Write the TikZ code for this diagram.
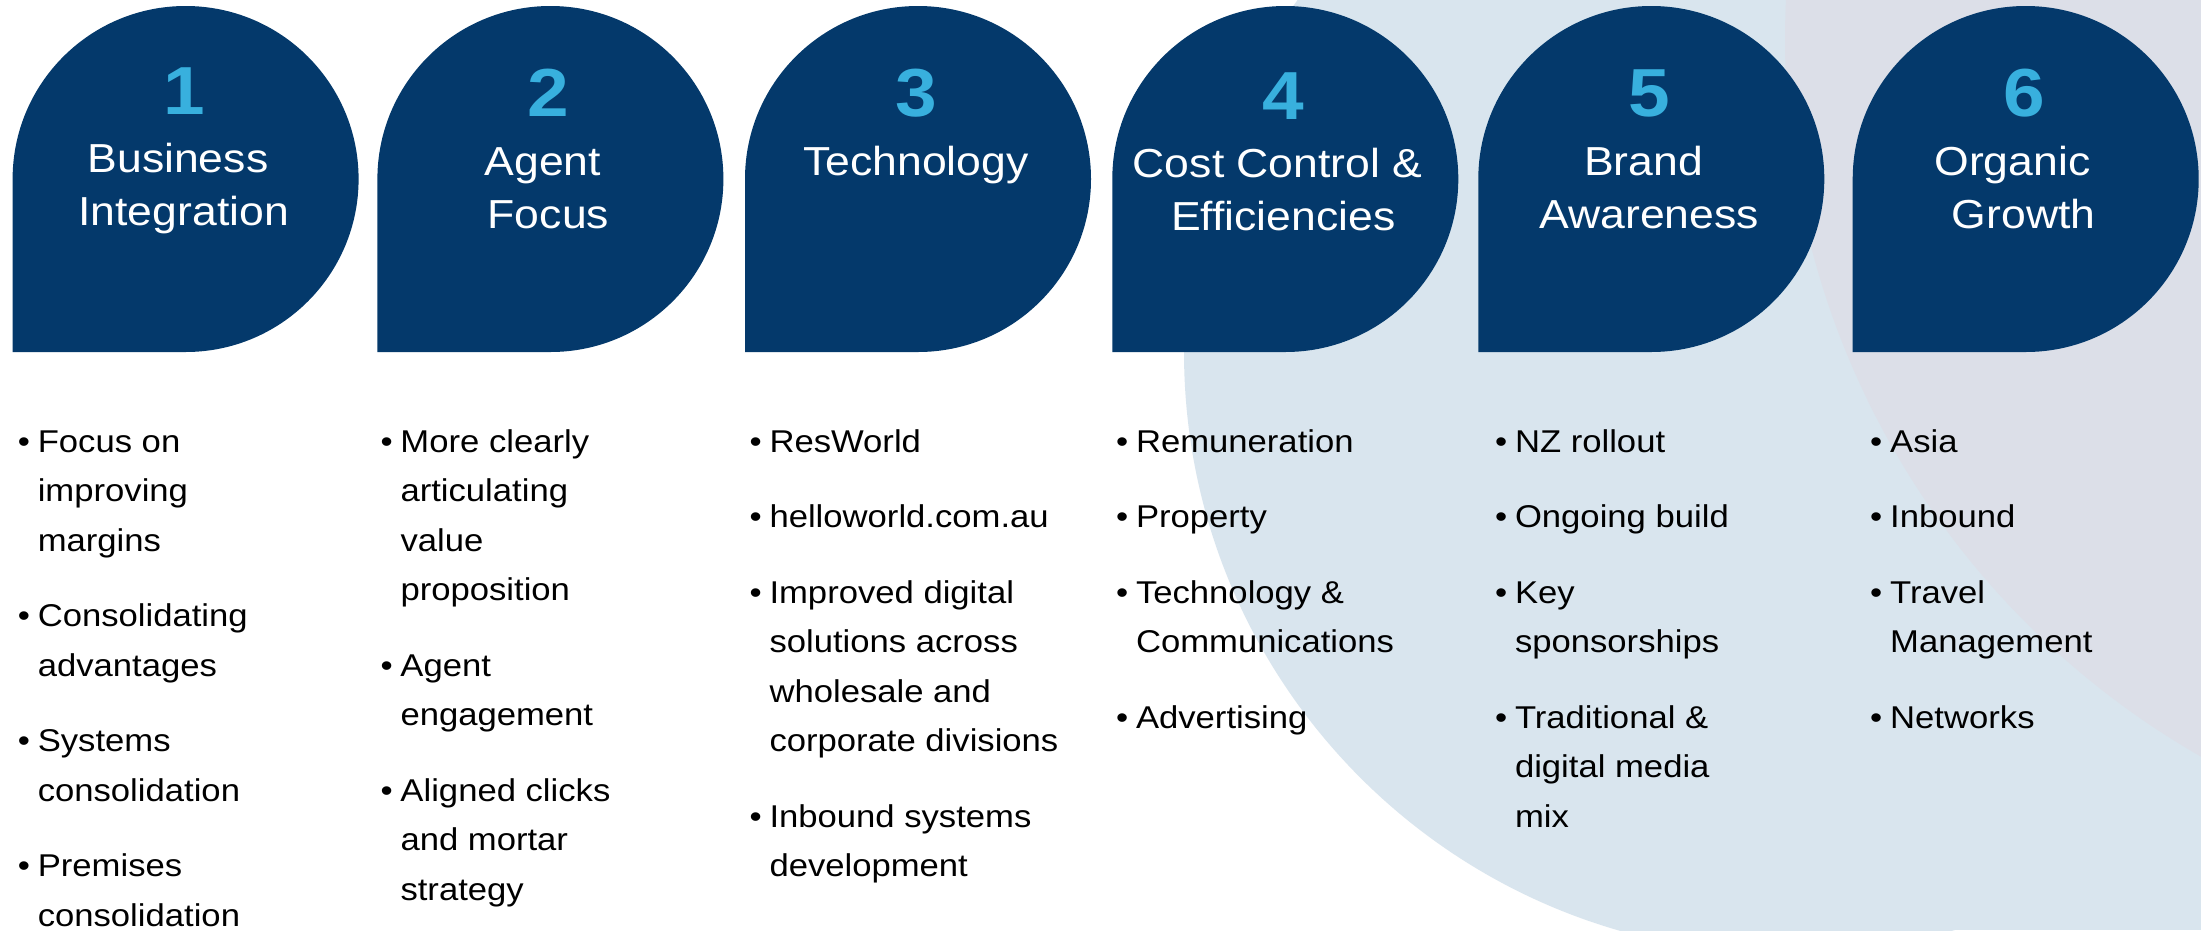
\documentclass[tikz,border=0pt]{standalone}
\usepackage{fontspec}
\setmainfont[FakeStretch=1.1]{Liberation Sans}
\definecolor{navy}{HTML}{04396B}
\definecolor{numblue}{HTML}{38B0DE}
\definecolor{mist}{HTML}{D9E5EE}
\definecolor{lilac}{HTML}{DCDFE8}
\newcommand\bul{\makebox[20pt][l]{\textbullet}}
\tikzset{
  drop/.style={fill=navy},
  numlabel/.style={anchor=base, inner sep=0pt, text=numblue,
    font=\fontsize{68}{80}\selectfont\bfseries},
  headlabel/.style={anchor=base, inner sep=0pt, text=white,
    font=\fontsize{40.5}{53.3}\selectfont},
  itemlist/.style={anchor=base west, inner sep=0pt, text=black,
    font=\fontsize{31.5}{49.5}\selectfont},
}
\begin{document}
\begin{tikzpicture}[x=1pt,y=-1pt]
\useasboundingbox (0,0) rectangle (2201,930);
\fill[white] (0,0) rectangle (2201,930);
% background discs
\begin{scope}
  \clip (0,0) rectangle (2201,930);
  \fill[mist] (1786,352) circle[radius=602];
  \fill[mist] (1786,352) rectangle (2201,930);
  \fill[lilac] (2610,40) circle[radius=825];
\end{scope}
% six drop shapes: a disc with a square lower-left corner
\foreach \L in {12.6,377.4,745,1112.3,1478.3,1852.7}{
  \fill[drop] (\L,352) -- (\L,179) arc[start angle=180,end angle=450,radius=173] -- cycle;
}
% numbers
\node[numlabel] (n1) at (184,114) {1};
\node[numlabel] (n2) at (548.5,116) {2};
\node[numlabel] (n3) at (916,116) {3};
\node[numlabel] (n4) at (1283.5,119) {4};
\node[numlabel] (n5) at (1649.5,116) {5};
\node[numlabel] (n6) at (2024,116) {6};
% headings
\node[headlabel] (h1) at (183.6,172) {\begin{tabular}[t]{@{}c@{}}Business\kern.28em\\Integration\end{tabular}};
\node[headlabel] (h2) at (548.4,175) {\begin{tabular}[t]{@{}c@{}}Agent\kern.28em\\Focus\end{tabular}};
\node[headlabel] (h3) at (916,175) {\begin{tabular}[t]{@{}c@{}}Technology\end{tabular}};
\node[headlabel] (h4) at (1283.3,177) {\begin{tabular}[t]{@{}c@{}}Cost Control \&\kern.28em\\Efficiencies\end{tabular}};
\node[headlabel] (h5) at (1649.3,175) {\begin{tabular}[t]{@{}c@{}}Brand\kern.28em\\Awareness\end{tabular}};
\node[headlabel] (h6) at (2023.7,175) {\begin{tabular}[t]{@{}c@{}}Organic\kern.56em\\Growth\end{tabular}};
% bullet lists
\node[itemlist] (l1) at (17.6,452) {\begin{tabular}[t]{@{}l@{}l@{}}
\bul & Focus on\\ & improving\\ & margins\\[26pt]
\bul & Consolidating\\ & advantages\\[26pt]
\bul & Systems\\ & consolidation\\[26pt]
\bul & Premises\\ & consolidation
\end{tabular}};
\node[itemlist] (l2) at (380.3,452) {\begin{tabular}[t]{@{}l@{}l@{}}
\bul & More clearly\\ & articulating\\ & value\\ & proposition\\[26pt]
\bul & Agent\\ & engagement\\[26pt]
\bul & Aligned clicks\\ & and mortar\\ & strategy
\end{tabular}};
\node[itemlist] (l3) at (749.3,452) {\begin{tabular}[t]{@{}l@{}l@{}}
\bul & ResWorld\\[26pt]
\bul & helloworld.com.au\\[26pt]
\bul & Improved digital\\ & solutions across\\ & wholesale and\\ & corporate divisions\\[26pt]
\bul & Inbound systems\\ & development
\end{tabular}};
\node[itemlist] (l4) at (1115.8,452) {\begin{tabular}[t]{@{}l@{}l@{}}
\bul & Remuneration\\[26pt]
\bul & Property\\[26pt]
\bul & Technology \&\\ & Communications\\[26pt]
\bul & Advertising
\end{tabular}};
\node[itemlist] (l5) at (1494.8,452) {\begin{tabular}[t]{@{}l@{}l@{}}
\bul & NZ rollout\\[26pt]
\bul & Ongoing build\\[26pt]
\bul & Key\\ & sponsorships\\[26pt]
\bul & Traditional \&\\ & digital media\\ & mix
\end{tabular}};
\node[itemlist] (l6) at (1870,452) {\begin{tabular}[t]{@{}l@{}l@{}}
\bul & Asia\\[26pt]
\bul & Inbound\\[26pt]
\bul & Travel\\ & Management\\[26pt]
\bul & Networks
\end{tabular}};
\end{tikzpicture}
\end{document}
